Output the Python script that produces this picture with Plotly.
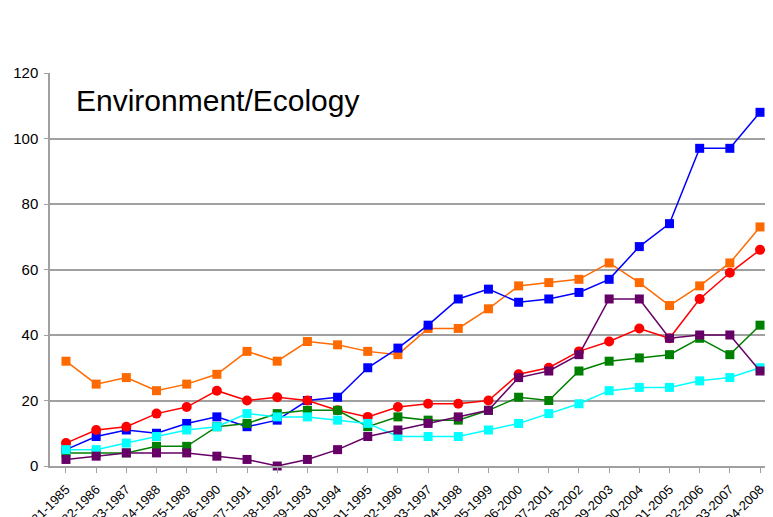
import plotly.graph_objects as go

periods = [
    "1981-1985", "1982-1986", "1983-1987", "1984-1988", "1985-1989", "1986-1990",
    "1987-1991", "1988-1992", "1989-1993", "1990-1994", "1991-1995", "1992-1996",
    "1993-1997", "1994-1998", "1995-1999", "1996-2000", "1997-2001", "1998-2002",
    "1999-2003", "2000-2004", "2001-2005", "2002-2006", "2003-2007", "2004-2008",
]

orange_vals = [32, 25, 27, 23, 25, 28, 35, 32, 38, 37, 35, 34,
               42, 42, 48, 55, 56, 57, 62, 56, 49, 55, 62, 73]
blue_vals = [5, 9, 11, 10, 13, 15, 12, 14, 20, 21, 30, 36,
             43, 51, 54, 50, 51, 53, 57, 67, 74, 97, 97, 108]
red_vals = [7, 11, 12, 16, 18, 23, 20, 21, 20, 17, 15, 18,
            19, 19, 20, 28, 30, 35, 38, 42, 39, 51, 59, 66]
green_vals = [4, 4, 4, 6, 6, 12, 13, 16, 17, 17, 12, 15,
              14, 14, 17, 21, 20, 29, 32, 33, 34, 39, 34, 43]
cyan_vals = [5, 5, 7, 9, 11, 12, 16, 15, 15, 14, 13, 9,
             9, 9, 11, 13, 16, 19, 23, 24, 24, 26, 27, 30]
purple_vals = [2, 3, 4, 4, 4, 3, 2, 0, 2, 5, 9, 11,
               13, 15, 17, 27, 29, 34, 51, 51, 39, 40, 40, 29]

series = [
    (orange_vals, "#FF6A00", "square"),
    (blue_vals, "#0000FF", "square"),
    (red_vals, "#FF0000", "circle"),
    (green_vals, "#008000", "square"),
    (cyan_vals, "#00FFFF", "square"),
    (purple_vals, "#660066", "square"),
]

fig = go.Figure()
for vals, color, symbol in series:
    fig.add_trace(
        go.Scatter(
            x=periods,
            y=vals,
            mode="lines+markers",
            line={"color": color, "width": 1.5},
            marker={"symbol": symbol, "size": 9 if symbol == "square" else 10,
                    "color": color},
            showlegend=False,
            cliponaxis=False,
        )
    )

fig.add_annotation(
    text="Environment/Ecology",
    xref="paper", yref="paper",
    x=0.033, y=0.931,
    xanchor="left", yanchor="middle",
    showarrow=False,
    font={"family": "Liberation Sans, Arial, sans-serif", "size": 30, "color": "black"},
)

# page body keeps an 8px default margin, so margins are shifted to compensate
fig.update_layout(
    width=773,
    height=517,
    margin={"l": 42, "r": 8, "t": 65, "b": 59},
    paper_bgcolor="white",
    plot_bgcolor="white",
    font={"family": "Liberation Sans, Arial, sans-serif", "color": "black"},
)
fig.update_xaxes(
    type="category",
    range=[-0.53, 23.43],
    automargin=False,
    tickangle=-45,
    tickfont={"size": 13},
    ticklabelstandoff=4,
    showgrid=False,
    showline=True,
    linecolor="#A0A0A0",
    linewidth=1.5,
    ticks="outside",
    ticklen=5,
    tickcolor="#A0A0A0",
)
fig.update_yaxes(
    range=[0, 120],
    dtick=20,
    automargin=False,
    tickfont={"size": 15},
    ticklabelstandoff=3,
    showgrid=True,
    gridcolor="#A0A0A0",
    gridwidth=1.5,
    showline=True,
    linecolor="#A0A0A0",
    linewidth=1.5,
    ticks="outside",
    ticklen=4,
    tickcolor="#A0A0A0",
    zeroline=False,
)

fig.write_html("out.html")
